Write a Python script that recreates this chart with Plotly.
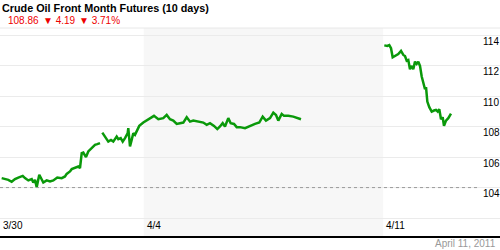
import plotly.graph_objects as go

# trading-day offsets from 3/30 open, and prices (None = gap)
t = [0.035, 0.104, 0.173, 0.244, 0.313, 0.382, 0.474, 0.522, 0.591, 0.662,
     0.695, 0.731, 0.766, 0.820, 0.871, 0.904, 0.975, 1.044, 1.113, 1.196,
     1.288, 1.357, 1.392, 1.461, 1.497, 1.566, 1.635, 1.670, 1.706, 1.739,
     1.795, 1.843, 1.914, 1.983, 2.031, 2.088,
     2.11,
     2.136, 2.213, 2.261, 2.317, 2.365, 2.436, 2.470, 2.520, 2.562, 2.610,
     2.666, 2.678, 2.714, 2.749, 2.783, 2.818, 2.854, 2.908, 2.992, 3.063,
     3.132, 3.215, 3.305, 3.409, 3.480, 3.549, 3.618, 3.689, 3.758, 3.827,
     3.898, 3.967, 4.035, 4.140, 4.244, 4.315, 4.384, 4.468, 4.537, 4.593,
     4.649, 4.697, 4.766, 4.816, 4.885, 4.942, 5.010, 5.115, 5.219, 5.324,
     5.413, 5.484, 5.553, 5.637, 5.706, 5.762, 5.810, 5.881, 5.929, 6.019,
     6.123, 6.207, 6.284,
     7.0,
     8.023, 8.086, 8.127, 8.163, 8.198, 8.246, 8.315, 8.372, 8.420, 8.455,
     8.491, 8.524, 8.559, 8.595, 8.628, 8.664, 8.699, 8.733, 8.768, 8.804,
     8.837, 8.873, 8.894, 8.921, 8.962, 9.013, 9.061, 9.102, 9.138, 9.171,
     9.207, 9.242, 9.269, 9.311, 9.359, 9.415]
price = [104.62, 104.56, 104.51, 104.38, 104.56, 104.66, 104.77, 104.62, 104.47, 104.56,
         104.33, 104.51, 104.03, 104.84, 104.51, 104.33, 104.47, 104.40, 104.47, 104.66,
         104.62, 104.73, 104.90, 105.06, 105.21, 105.28, 105.38, 105.28, 106.26, 106.30,
         106.00, 106.37, 106.59, 106.81, 106.85, 106.92,
         None,
         107.61, 107.25, 107.02, 107.13, 107.02, 107.35, 107.18, 107.25, 107.02, 107.25,
         107.57, 107.90, 106.70, 107.13, 107.57, 107.46, 107.68, 108.05, 108.27, 108.40,
         108.56, 108.71, 108.49, 108.56, 108.77, 108.49, 108.40, 108.18, 108.23, 108.27,
         108.62, 108.33, 108.40, 108.33, 108.27, 108.12, 108.23, 108.05, 107.84, 108.01,
         108.23, 108.01, 108.56, 108.23, 108.18, 107.97, 107.97, 107.90, 108.05, 108.18,
         108.27, 108.66, 108.40, 108.56, 108.92, 108.77, 108.40, 108.84, 108.71, 108.71,
         108.66, 108.56, 108.49,
         None,
         113.34, 113.30, 113.36, 113.15, 112.56, 112.64, 112.77, 112.97, 112.71, 112.64,
         112.33, 112.38, 111.77, 111.99, 111.77, 112.27, 112.12, 112.27, 111.99, 111.29,
         110.85, 110.46, 110.59, 109.65, 109.28, 108.99, 109.06, 109.10, 108.99, 109.15,
         108.49, 108.62, 108.05, 108.40, 108.56, 108.86]

tick_pos = [0, 3, 8]
tick_text = ["3/30", "4/4", "4/11"]
y_ticks = [104, 106, 108, 110, 112, 114]
ref_level = 104.0
title = "Crude Oil Front Month Futures (10 days)"
last_price = "108.86"
chg = "\u25bc 4.19"
pct = "\u25bc 3.71%"
date_text = "April 11, 2011"

FONT = "Arial, Liberation Sans, sans-serif"
W, H = 500, 250
MT, MB = 28, 14
PH = H - MT - MB

def py(px_from_top):
    return (H - MB - px_from_top) / PH

fig = go.Figure()
fig.add_trace(go.Scatter(x=t, y=price, mode="lines", connectgaps=False,
                         line=dict(color="#0a990a", width=2.5), hoverinfo="skip"))

shapes = [
    dict(type="rect", xref="x", yref="paper", x0=3, x1=8, y0=0, y1=1,
         fillcolor="#f7f7f7", line=dict(width=0), layer="below"),
    dict(type="line", xref="paper", yref="paper", x0=0, x1=1, y0=1, y1=1,
         line=dict(color="#e8e8e8", width=1), layer="below"),
    dict(type="line", xref="x", yref="y", x0=0, x1=10, y0=ref_level, y1=ref_level,
         line=dict(color="#999999", width=1, dash="dot")),
]

annotations = [
    dict(text="<b>" + title + "</b>", xref="paper", yref="paper", x=0, y=py(8),
         xanchor="left", yanchor="middle", showarrow=False,
         font=dict(family=FONT, size=10.8, color="#000000")),
    dict(text=last_price, xref="paper", yref="paper", x=5.5 / W, y=py(21),
         xanchor="left", yanchor="middle", showarrow=False,
         font=dict(family=FONT, size=10, color="#ee0000")),
    dict(text=chg, xref="paper", yref="paper", x=41 / W, y=py(21),
         xanchor="left", yanchor="middle", showarrow=False,
         font=dict(family=FONT, size=10, color="#ee0000")),
    dict(text=pct, xref="paper", yref="paper", x=77 / W, y=py(21),
         xanchor="left", yanchor="middle", showarrow=False,
         font=dict(family=FONT, size=10, color="#ee0000")),
    dict(text=date_text, xref="paper", yref="paper", x=1, y=py(243),
         xanchor="right", yanchor="middle", showarrow=False, xshift=-2,
         font=dict(family=FONT, size=10, color="#999999")),
]
for p, s in zip(tick_pos, tick_text):
    annotations.append(dict(text=s, xref="x", yref="paper", x=p, y=0,
                            xanchor="left", yanchor="bottom", xshift=1, yshift=3,
                            showarrow=False,
                            font=dict(family=FONT, size=10, color="#000000")))
for v in y_ticks:
    annotations.append(dict(text=str(v), xref="paper", yref="y", x=481 / W, y=v,
                            xanchor="left", yanchor="middle", yshift=-6,
                            showarrow=False,
                            font=dict(family=FONT, size=10, color="#000000")))

fig.update_layout(
    width=W, height=H,
    margin=dict(l=0, r=0, t=MT, b=MB, pad=0),
    paper_bgcolor="white", plot_bgcolor="white",
    showlegend=False,
    shapes=shapes, annotations=annotations,
    xaxis=dict(range=[0, W / 47.9], showgrid=False, zeroline=False,
               showticklabels=False, ticks="",
               showline=True, linecolor="#000000", linewidth=2, fixedrange=True),
    yaxis=dict(range=[100.82, 114.48], tickvals=[102] + y_ticks, showgrid=True,
               gridcolor="#ebebeb", gridwidth=1, zeroline=False,
               showticklabels=False, ticks="", fixedrange=True),
)

fig.write_html("out.html", config={"displayModeBar": False})
